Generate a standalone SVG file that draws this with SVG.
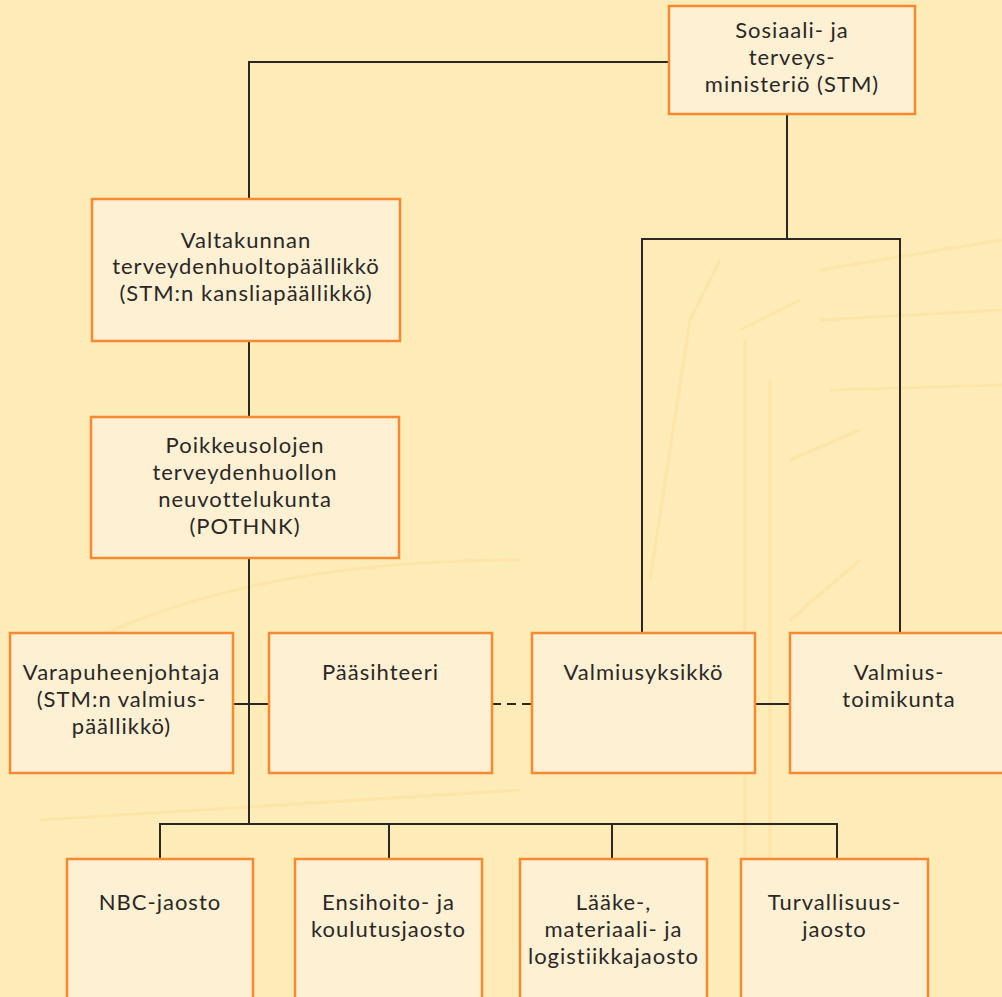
<svg xmlns="http://www.w3.org/2000/svg" width="1002" height="997" viewBox="0 0 1002 997">
<style>
.bg{fill:#FDEBB8}
.box{fill:#FEF0D3;stroke:#F7892F;stroke-width:2.5}
.ln{fill:none;stroke:#2A2726;stroke-width:2}
.dash{stroke-dasharray:9 6}
.wm{fill:none;stroke:#FCE5A6;stroke-width:3}
text{font-family:Lato,"Liberation Sans",sans-serif;font-size:22px;letter-spacing:1px;fill:#2A2726;text-anchor:middle}
</style>
<rect class="bg" x="0" y="0" width="1002" height="997"/>
<g id="watermark">
<path class="wm" d="M650 580 L690 320 L720 260 M740 330 L800 300 M745 340 L745 880 M770 380 L770 1000 M790 620 L860 560 M790 460 L860 430 M820 270 L1002 240 M820 320 L1002 310 M830 390 L1002 385"/>
<path class="wm" d="M20 680 Q200 560 520 560 M40 820 L520 790"/>
</g>
<g id="connectors">
<path class="ln" d="M669 62 H249 V199"/>
<path class="ln" d="M249 341 V417"/>
<path class="ln" d="M249 558 V824"/>
<path class="ln" d="M233 704 H269"/>
<path class="ln dash" d="M492 704 H532"/>
<path class="ln" d="M755 704 H790"/>
<path class="ln" d="M787 114 V239"/>
<path class="ln" d="M642 633 V239 H900 V633"/>
<path class="ln" d="M160 859 V824 H837 V859"/>
<path class="ln" d="M389 824 V859"/>
<path class="ln" d="M612 824 V859"/>
</g>
<g id="stm">
<rect class="box" x="669" y="6" width="246" height="108"/>
<text x="792" y="38">Sosiaali- ja</text>
<text x="792" y="65">terveys-</text>
<text x="792" y="92">ministeriö (STM)</text>
</g>
<g id="valtakunnan">
<rect class="box" x="92" y="199" width="308" height="142"/>
<text x="246" y="248">Valtakunnan</text>
<text x="246" y="274">terveydenhuoltopäällikkö</text>
<text x="246" y="301">(STM:n kansliapäällikkö)</text>
</g>
<g id="pothnk">
<rect class="box" x="91" y="417" width="308" height="141"/>
<text x="245" y="453">Poikkeusolojen</text>
<text x="245" y="480">terveydenhuollon</text>
<text x="245" y="507">neuvottelukunta</text>
<text x="245" y="534">(POTHNK)</text>
</g>
<g id="varapuheenjohtaja">
<rect class="box" x="10" y="633" width="223" height="140"/>
<text x="121.5" y="680">Varapuheenjohtaja</text>
<text x="121.5" y="707">(STM:n valmius-</text>
<text x="121.5" y="734">päällikkö)</text>
</g>
<g id="paasihteeri">
<rect class="box" x="269" y="633" width="223" height="140"/>
<text x="380.5" y="680">Pääsihteeri</text>
</g>
<g id="valmiusyksikko">
<rect class="box" x="532" y="633" width="223" height="140"/>
<text x="643.5" y="680">Valmiusyksikkö</text>
</g>
<g id="valmiustoimikunta">
<rect class="box" x="790" y="633" width="218" height="140"/>
<text x="899" y="680">Valmius-</text>
<text x="899" y="707">toimikunta</text>
</g>
<g id="nbc">
<rect class="box" x="67" y="859" width="186" height="150"/>
<text x="160" y="910">NBC-jaosto</text>
</g>
<g id="ensihoito">
<rect class="box" x="295" y="859" width="187" height="150"/>
<text x="388.5" y="910">Ensihoito- ja</text>
<text x="388.5" y="937">koulutusjaosto</text>
</g>
<g id="laake">
<rect class="box" x="520" y="859" width="187" height="150"/>
<text x="613.5" y="910">Lääke-,</text>
<text x="613.5" y="937">materiaali- ja</text>
<text x="613.5" y="964">logistiikkajaosto</text>
</g>
<g id="turvallisuus">
<rect class="box" x="741" y="859" width="187" height="150"/>
<text x="834.5" y="910">Turvallisuus-</text>
<text x="834.5" y="937">jaosto</text>
</g>
</svg>
